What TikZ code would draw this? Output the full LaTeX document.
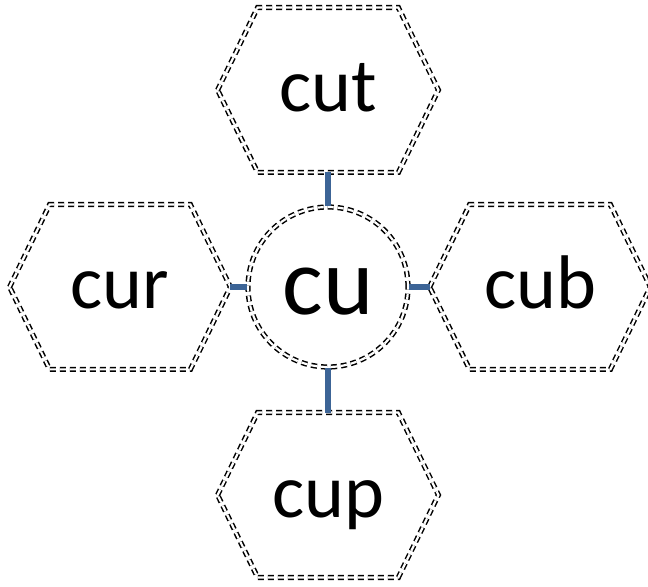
\documentclass[tikz,border=0pt]{standalone}
\usepackage{fontspec}
\setmainfont{Carlito}
\definecolor{linkblue}{RGB}{60,100,150}
\usetikzlibrary{calc}

\tikzset{
  hexnode/.style={inner sep=0pt, minimum width=110pt, minimum height=82pt,
                  text height=24pt, text depth=2pt,
                  font=\fontsize{38}{40}\selectfont},
  hexline/.style={draw=black, line width=0.75pt, double=white, double distance=1.1pt,
                  dash pattern=on 3pt off 2pt},
  link/.style={draw=linkblue, line width=2.8pt}
}

\begin{document}
\begin{tikzpicture}[x=0.5pt, y=-0.5pt]
  \useasboundingbox (0,0) rectangle (648,587);
  % centre
  \node[circle, hexline, minimum size=80pt, inner sep=0pt,
        text height=30pt, text depth=2pt,
        font=\fontsize{48}{50}\selectfont] (cu) at (328,287) {cu};
  % four hexagons
  \node[hexnode] (cut) at (328,90) {cut};
  \node[hexnode] (cur) at (120,287) {cur};
  \node[hexnode] (cub) at (540,287) {cub};
  \node[hexnode] (cup) at (328,495) {cup};
  \foreach \h in {cut,cur,cub,cup}
    \draw[hexline] (\h.west) -- ($(\h.north west)+(40,0)$) -- ($(\h.north east)+(-40,0)$)
      -- (\h.east) -- ($(\h.south east)+(-40,0)$) -- ($(\h.south west)+(40,0)$) -- cycle;
  % links
  \draw[link] (cu.north) -- (cut.south);
  \draw[link] (cu.west) -- (cur.east);
  \draw[link] (cu.east) -- (cub.west);
  \draw[link] (cu.south) -- (cup.north);
\end{tikzpicture}
\end{document}
